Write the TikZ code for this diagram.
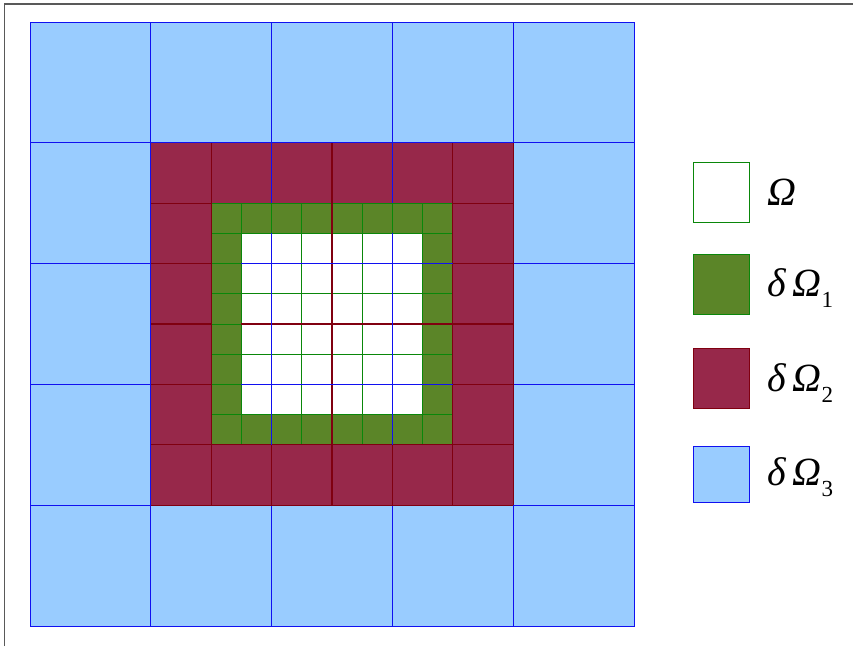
\documentclass[tikz,border=0pt]{standalone}
\usepackage{fontspec}
\setmainfont{Liberation Serif}
\definecolor{bfill}{HTML}{99CCFF}
\definecolor{bline}{HTML}{1010F0}
\definecolor{rfill}{HTML}{97284A}
\definecolor{rline}{HTML}{800010}
\definecolor{gfill}{HTML}{5B8528}
\definecolor{gline}{HTML}{0A870A}
\newcommand\lsub[1]{\raisebox{-11pt}{\fontsize{23}{23}\selectfont\upshape #1}}
\begin{document}
\begin{tikzpicture}[x=1pt,y=-1pt,
  bl/.style={draw=bline,line width=1pt},
  blt/.style={draw=bline,line width=1.5pt},
  rl/.style={draw=rline,line width=1.1pt},
  gl/.style={draw=gline,line width=1pt},
  lab/.style={anchor=base west, inner sep=0pt, font=\fontsize{40}{42}\selectfont\itshape}]
\useasboundingbox (0,0) rectangle (853,646);
\draw[gray!70!black, line width=1.6pt] (4.5,646) -- (4.5,3.8) -- (853,3.8);
\begin{scope}[shift={(30,22)}, x=30.2pt, y=-30.2pt]
  \fill[bfill] (0,0) rectangle (20,20);
  \fill[rfill] (4,4) rectangle (16,16);
  \fill[gfill] (6,6) rectangle (14,14);
  \fill[white] (7,7) rectangle (13,13);
  % blue outer ring lines
  \foreach \v in {0,4,8,12,16,20} {
    \draw[bl] (\v,0) -- (\v,4);
    \draw[bl] (\v,16) -- (\v,20);
    \draw[bl] (0,\v) -- (4,\v);
    \draw[bl] (16,\v) -- (20,\v);
  }
  \draw[bl] (0,0) rectangle (20,20);
  % red ring lines
  \foreach \v in {6,8,10,12,14,16} {
    \draw[rl] (\v,4) -- (\v,6);
    \draw[rl] (\v,14) -- (\v,16);
    \draw[rl] (4,\v) -- (6,\v);
    \draw[rl] (14,\v) -- (16,\v);
  }
  \draw[rl] (16,4) -- (16,16) (4,16) -- (16,16);
  % green lines
  \foreach \v in {6,...,14} {
    \draw[gl] (\v,6) -- (\v,14);
    \draw[gl] (6,\v) -- (14,\v);
  }
  % red overlays
  \draw[rl] (6,4) -- (6,16) (14,4) -- (14,16) (4,14) -- (16,14)
            (10,4) -- (10,16) (7,10) -- (16,10);
  % blue overlays
  \draw[bl] (4,0) -- (4,20) (0,4) -- (20,4);
  \draw[blt] (8,7) -- (8,14) (12,7) -- (12,14) (8,4) -- (8,6) (12,4) -- (12,6);
  \draw[blt] (7,8) -- (14,8) (7,12) -- (14,12);
\end{scope}
% legend
\draw[gline, fill=white, line width=1pt] (693,162) rectangle (749,222);
\draw[gline, fill=gfill, line width=1pt] (693,254) rectangle (749,314);
\draw[rline, fill=rfill, line width=1pt] (693,348) rectangle (749,408);
\draw[bline, fill=bfill, line width=1pt] (693,446) rectangle (749,502);
\node[lab] (l0) at (767,205) {Ω};
\node[lab] (l1) at (767,296) {δ\hspace{7pt}Ω\lsub{1}};
\node[lab] (l2) at (767,391) {δ\hspace{7pt}Ω\lsub{2}};
\node[lab] (l3) at (767,485) {δ\hspace{7pt}Ω\lsub{3}};
\end{tikzpicture}
\end{document}
